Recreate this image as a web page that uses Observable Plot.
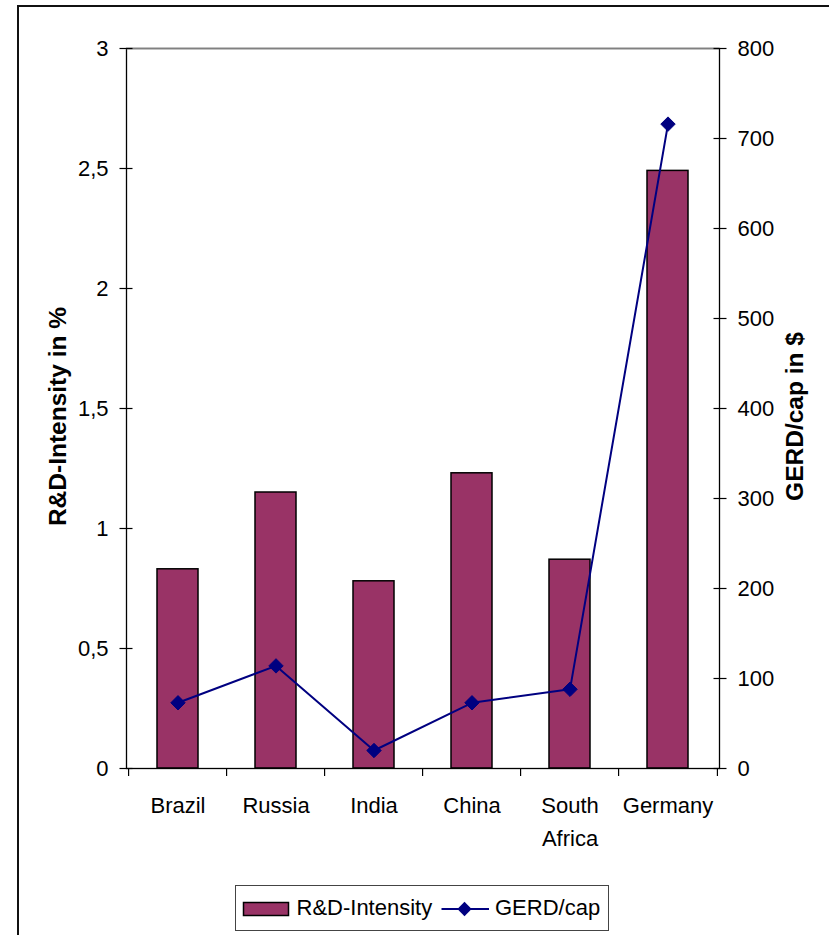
<!DOCTYPE html>
<html>
<head>
<meta charset="utf-8">
<script src="https://cdn.jsdelivr.net/npm/d3@7"></script>
<script src="https://cdn.jsdelivr.net/npm/@observablehq/plot@0.6"></script>
<style>
  html, body { margin: 0; padding: 0; background: #fff; overflow: hidden; }
  body { width: 829px; height: 935px; position: relative; font-family: "Liberation Sans", Arial, sans-serif; }
  #outer { position: absolute; left: 17px; top: 5px; width: 1000px; height: 1100px; border: 2px solid #111; box-sizing: border-box; }
  #chart { position: absolute; left: 0; top: 0; }
  #legend { position: absolute; left: 235px; top: 885px; }
</style>
</head>
<body>
<div id="outer"></div>
<div id="chart"></div>
<div id="legend"></div>
<script>
// ---- data ----
const categories = ["Brazil", "Russia", "India", "China", "South Africa", "Germany"];
const categoryLabels = ["Brazil", "Russia", "India", "China", "South\nAfrica", "Germany"];
const rdIntensity = [0.83, 1.15, 0.78, 1.23, 0.87, 2.49];   // R&D-Intensity in %
const gerdPerCap = [73, 114, 20, 73, 88, 716];               // GERD/cap in $
const leftTicks = [0, 0.5, 1, 1.5, 2, 2.5, 3];
const rightTicks = [0, 100, 200, 300, 400, 500, 600, 700, 800];
const leftMax = 3, rightMax = 800;
const seriesNames = ["R&D-Intensity", "GERD/cap"];
const titles = {left: "R&D-Intensity in %", right: "GERD/cap in $"};

// ---- layout ----
const W = 829, H = 880;
const mL = 126, mR = 110, mT = 48, mB = H - 768;
const plotW = W - mL - mR, plotH = H - mT - mB;
const step = plotW / categories.length;
const k = leftMax / rightMax;

const data = categories.map((c, i) => ({country: c, label: categoryLabels[i], rd: rdIntensity[i], gerd: gerdPerCap[i]}));
const barColor = "#993366", lineColor = "#000080";
const fmtLeft = d => String(d).replace(".", ",");
const fmtRight = d => String(Math.round(d / k));
const tickDown = -8 * leftMax / plotH;

const chart = Plot.plot({
  width: W, height: H,
  marginLeft: mL, marginRight: mR, marginTop: mT, marginBottom: mB,
  style: {fontFamily: "'Liberation Sans', Arial, sans-serif", fontSize: "22px", color: "#000", background: "transparent"},
  x: {domain: categories, paddingInner: 0.58, paddingOuter: 0.29, axis: null},
  y: {domain: [0, leftMax], axis: null},
  marks: [
    Plot.barY(data, {x: "country", y: "rd", fill: barColor, stroke: "#000", strokeWidth: 1.5}),
    Plot.frame({stroke: "#000", strokeWidth: 1.3}),
    Plot.ruleY([leftMax], {stroke: "#808080", strokeWidth: 1.5}),
    // left axis
    Plot.axisY({ticks: leftTicks, anchor: "left", tickSize: 13, dx: 6.5, tickFormat: () => "", label: null, strokeWidth: 1.2}),
    Plot.axisY({ticks: leftTicks, anchor: "left", tickSize: 0, tickPadding: 18, tickFormat: fmtLeft, label: null, fontSize: 22}),
    // right axis
    Plot.axisY({ticks: rightTicks.map(v => v * k), anchor: "right", tickSize: 13, dx: -6.5, tickFormat: () => "", label: null, strokeWidth: 1.2}),
    Plot.axisY({ticks: rightTicks.map(v => v * k), anchor: "right", tickSize: 0, tickPadding: 18, tickFormat: fmtRight, label: null, fontSize: 22}),
    // category boundary ticks
    Plot.ruleX(data, {x: "country", y1: 0, y2: tickDown, dx: -step / 2, stroke: "#000", strokeWidth: 1.2}),
    Plot.ruleX(data.slice(-1), {x: "country", y1: 0, y2: tickDown, dx: step / 2, stroke: "#000", strokeWidth: 1.2}),
    // category labels
    Plot.text(data, {x: "country", text: "label", frameAnchor: "bottom", lineAnchor: "top", dy: 21, lineHeight: 1.5, fontSize: 22, fill: "#000"}),
    // line series on secondary axis
    Plot.line(data, {x: "country", y: d => d.gerd * k, stroke: lineColor, strokeWidth: 2}),
    Plot.dot(data, {x: "country", y: d => d.gerd * k, symbol: "diamond2", r: 6.5, fill: lineColor, stroke: lineColor, strokeWidth: 1}),
    // axis titles
    Plot.text([titles.left], {frameAnchor: "left", textAnchor: "middle", rotate: -90, dx: -68, dy: 8, lineAnchor: "middle", fontSize: 24.5, fontWeight: "bold", fill: "#000"}),
    Plot.text([titles.right], {frameAnchor: "right", textAnchor: "middle", rotate: -90, dx: 76, dy: 8, lineAnchor: "middle", fontSize: 24.5, fontWeight: "bold", fill: "#000"})
  ]
});
document.getElementById("chart").appendChild(chart);

// ---- legend ----
const lg = d3.select("#legend").append("svg").attr("width", 375).attr("height", 47)
  .style("font-family", "'Liberation Sans', Arial, sans-serif");
lg.append("rect").attr("x", 0.5).attr("y", 0.5).attr("width", 373).attr("height", 45).attr("fill", "#fff").attr("stroke", "#444");
lg.append("rect").attr("x", 8.5).attr("y", 17.5).attr("width", 45).attr("height", 13).attr("fill", barColor).attr("stroke", "#000").attr("stroke-width", 1.5);
lg.append("text").attr("x", 61.5).attr("y", 30).attr("font-size", 22).text(seriesNames[0]);
lg.append("line").attr("x1", 206.5).attr("x2", 254).attr("y1", 24).attr("y2", 24).attr("stroke", lineColor).attr("stroke-width", 2);
lg.append("path").attr("d", d3.symbol(d3.symbolDiamond2, 130)()).attr("transform", "translate(229.5,24)").attr("fill", lineColor);
lg.append("text").attr("x", 260).attr("y", 30).attr("font-size", 22).text(seriesNames[1]);
</script>
</body>
</html>
